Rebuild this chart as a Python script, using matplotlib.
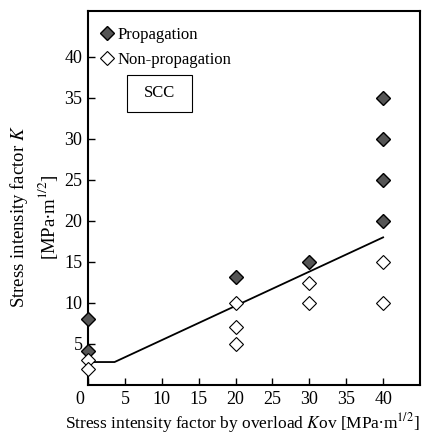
import matplotlib
matplotlib.use('Agg')
import matplotlib.pyplot as plt
import matplotlib.transforms as mtransforms
from matplotlib.patches import Rectangle

plt.rcParams['font.family'] = ['Liberation Serif', 'DejaVu Serif']
plt.rcParams['mathtext.fontset'] = 'stix'

# data
prop_x = [0, 0, 20, 30, 40, 40, 40, 40]
prop_y = [8, 4.2, 13.2, 15, 35, 30, 25, 20]
nonprop_x = [0, 0, 20, 20, 20, 30, 30, 40, 40]
nonprop_y = [3, 2, 10, 7.1, 5, 12.4, 10, 15, 10]
limit_x = [0, 3.6, 40]
limit_y = [2.8, 2.8, 18]
xticks = [0, 5, 10, 15, 20, 25, 30, 35, 40]
yticks = [5, 10, 15, 20, 25, 30, 35, 40]

fig = plt.figure(figsize=(4.38, 4.36), dpi=100)
ax = fig.add_axes([88/438, 1 - 385/436, (420 - 88)/438, (385 - 11)/436])

ax.plot(limit_x, limit_y, color='black', lw=1.3, zorder=2)
ax.plot(prop_x, prop_y, ls='none', marker='D', ms=7.5, mfc='#555555',
        mec='black', mew=1.0, clip_on=False, zorder=3, label='Propagation')
ax.plot(nonprop_x, nonprop_y, ls='none', marker='D', ms=7.5, mfc='white',
        mec='black', mew=0.8, clip_on=False, zorder=3, label='Non-propagation')

ax.set_xlim(0, 45)
ax.set_ylim(0, 45.6)
ax.set_xticks(xticks)
ax.set_yticks(yticks)
ax.tick_params(direction='in', length=5, width=1, labelsize=13, pad=4)
for s in ax.spines.values():
    s.set_linewidth(1.5)

# the "0" sits a little left of its tick
lbl0 = ax.get_xticklabels()[0]
lbl0.set_transform(lbl0.get_transform() +
                   mtransforms.ScaledTranslation(-8/100, 0, fig.dpi_scale_trans))

leg = ax.legend(loc='upper left', bbox_to_anchor=(0.0, 0.98), frameon=False,
                fontsize=12, handletextpad=0.0, borderpad=0.3, labelspacing=0.55,
                handlelength=1.3, borderaxespad=0.2)

box_x0, box_x1 = (127 - 88) / 7.38, (192 - 88) / 7.38
box_y0, box_y1 = (385 - 112) / 8.2, (385 - 75) / 8.2
ax.add_patch(Rectangle((box_x0, box_y0), box_x1 - box_x0, box_y1 - box_y0,
                       fill=False, ec='black', lw=0.8))
ax.text((box_x0 + box_x1) / 2, (box_y0 + box_y1) / 2, 'SCC', ha='center',
        va='center', fontsize=12)

fig.text(34/438, 1 - 217/436,
         'Stress intensity factor $K$\n[MPa\u2219m$^{1/2}$]',
         rotation=90, ha='center', va='center', multialignment='center',
         fontsize=13.5, linespacing=1.35)
fig.text(242/438, 1 - 423/436,
         'Stress intensity factor by overload $K$ov [MPa\u2219m$^{1/2}$]',
         ha='center', va='center', fontsize=12.5)

fig.savefig('out.png', dpi=100)
